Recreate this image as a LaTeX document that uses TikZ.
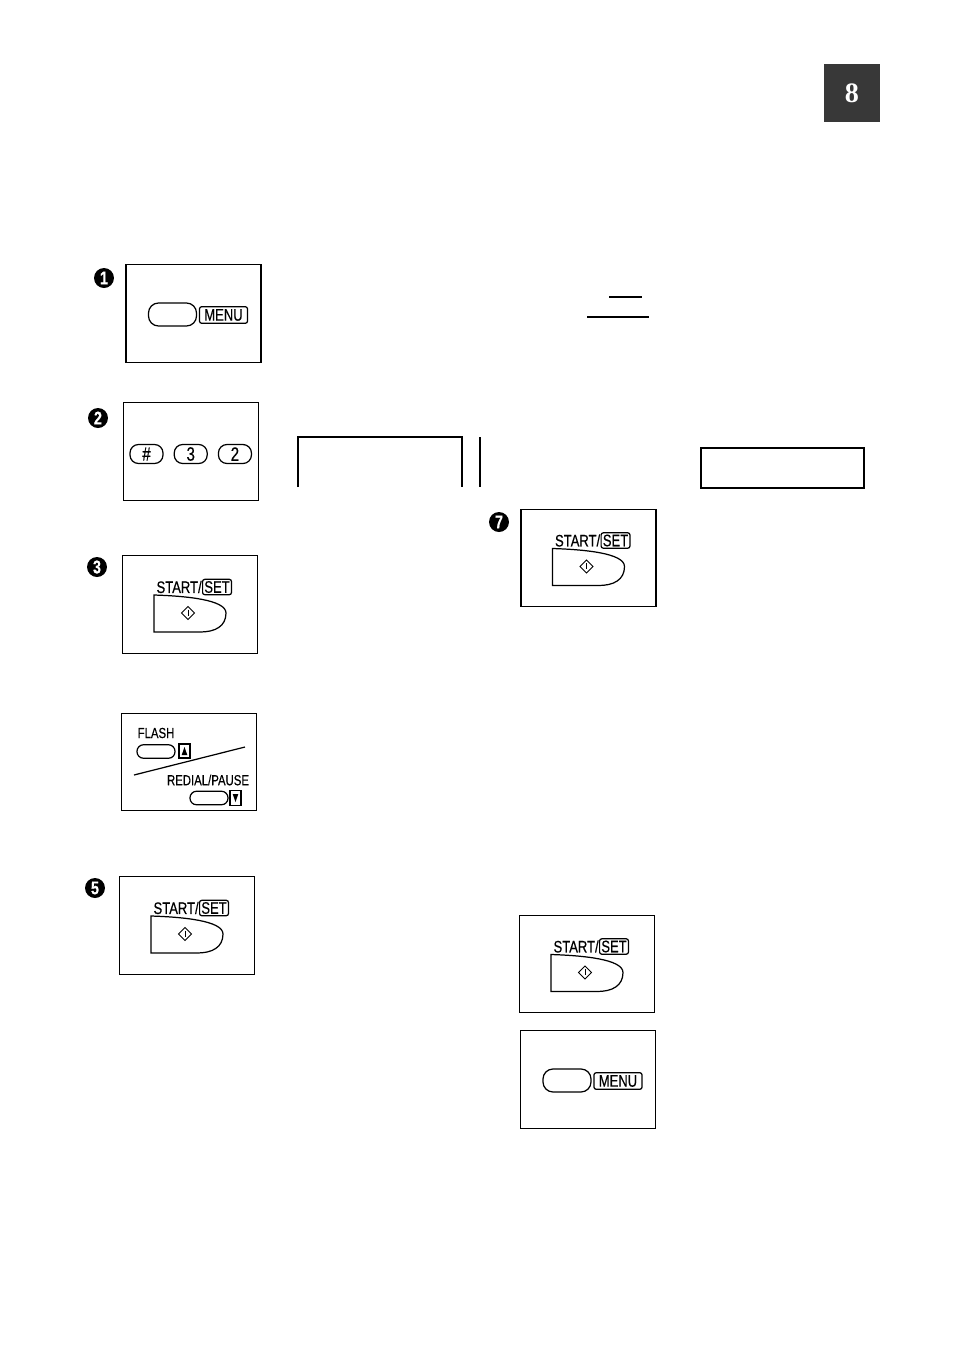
\documentclass[tikz,border=0pt]{standalone}
\usepackage{fontspec}
\newfontfamily\keyfont{Liberation Sans}[FakeStretch=0.78, FakeBold=0.4]
\newfontfamily\badgefont{Liberation Serif}
\usetikzlibrary{positioning, shapes.geometric}
\tikzset{
  panel/.style={draw, line width=0.6pt, minimum width=2.7cm, minimum height=1.95cm, inner sep=0pt},
  stepnum/.style={circle, fill=black, text=white, font=\keyfont\bfseries\fontsize{10.5}{10}\selectfont,
    minimum size=0.4cm, inner sep=0pt},
  oval/.style={draw, line width=0.7pt, rounded corners=0.2cm, minimum width=0.96cm, minimum height=0.46cm, inner sep=0pt},
  smalloval/.style={draw, line width=0.7pt, rounded corners=0.13cm, minimum width=0.76cm, minimum height=0.27cm, inner sep=0pt},
  keybox/.style={draw, line width=0.7pt, rounded corners=1.2pt, inner sep=1pt, font=\keyfont\fontsize{9.5}{10}\selectfont},
  keytext/.style={inner sep=0pt, font=\keyfont\fontsize{9.5}{10}\selectfont},
  smalltext/.style={inner sep=0pt, font=\keyfont\fontsize{8.3}{9}\selectfont},
  line/.style={line width=0.8pt}
}
% the START/SET key of a panel
\newcommand{\startkey}[1]{%
  \begin{scope}[shift={(#1.center)}]
    \node[keytext, anchor=east] (#1-start) at (12,-17.5) {START/};
    \node[keybox, anchor=west] (#1-set) at (#1-start.east) {SET};
    \draw[line width=0.7pt] (-36,-9.5) .. controls (-5,-8.5) and (36,-5) .. (36,8.5)
      .. controls (36,22) and (25,27.5) .. (10,27.5) -- (-36,27.5) -- cycle;
    \draw[line width=0.5pt] (-2,2) -- (4.5,8.5) -- (-2,15) -- (-8.5,8.5) -- cycle;
    \draw[line width=0.5pt] (-2,5) -- (-2,11);
  \end{scope}}
% the MENU key of a panel
\newcommand{\menukey}[1]{%
  \begin{scope}[shift={(#1.center)}]
    \node[oval] (#1-key) at (-21,1) {};
    \node[keybox, minimum width=0.96cm, minimum height=0.33cm] (#1-menu) at (30,1.5) {MENU};
  \end{scope}}

\begin{document}
\begin{tikzpicture}[x=0.02cm, y=-0.02cm]
  \useasboundingbox (0,0) rectangle (954,1350);

  % chapter badge
  \node[fill=black!78, text=white, minimum width=1.12cm, minimum height=1.16cm,
    font=\badgefont\bfseries\fontsize{16}{16}\selectfont] (badge) at (852,93) {8};

  % step 1
  \node[panel] (menu-a) at (193.5,313.5) {};
  \node[stepnum] (num-1) at (104,278) {1};
  \menukey{menu-a}

  % step 2
  \node[panel] (digits) at (191,451.5) {};
  \node[stepnum] (num-2) at (98,418) {2};
  \node[oval, minimum width=0.66cm, minimum height=0.38cm, rounded corners=0.17cm,
    font=\keyfont\fontsize{11}{11}\selectfont] (key-hash) at (146.5,454) {\#};
  \node[oval, minimum width=0.66cm, minimum height=0.38cm, rounded corners=0.17cm,
    font=\keyfont\fontsize{11}{11}\selectfont, right=0.2cm of key-hash] (key-3) {3};
  \node[oval, minimum width=0.66cm, minimum height=0.38cm, rounded corners=0.17cm,
    font=\keyfont\fontsize{11}{11}\selectfont, right=0.2cm of key-3] (key-2) {2};

  % step 3
  \node[panel] (start-a) at (190,604.5) {};
  \node[stepnum] (num-3) at (97,567) {3};
  \startkey{start-a}

  % step 4
  \node[panel] (flash) at (189,762) {};
  \begin{scope}[shift={(flash.center)}]
    \node[smalltext] (flash-text) at (-33,-29) {FLASH};
    \node[smalloval] (flash-key) at (-33,-10.5) {};
    \node[draw, line width=0.6pt, minimum width=0.22cm, minimum height=0.28cm, inner sep=0pt] (up-box) at (-4.5,-11) {};
    \fill (up-box.center) ++(0,-4) -- ++(2.8,8) -- ++(-5.6,0) -- cycle;
    \draw[line width=0.7pt] (-55,13) -- (56,-15);
    \node[smalltext] (redial-text) at (19,18) {REDIAL/PAUSE};
    \node[smalloval] (redial-key) at (20,36) {};
    \node[draw, line width=0.6pt, minimum width=0.22cm, minimum height=0.3cm, inner sep=0pt] (down-box) at (46.5,36) {};
    \fill (down-box.center) ++(0,4) -- ++(2.8,-8) -- ++(-5.6,0) -- cycle;
  \end{scope}

  % step 5
  \node[panel] (start-b) at (187,925.5) {};
  \node[stepnum] (num-5) at (95,888) {5};
  \startkey{start-b}

  % step 7
  \node[panel] (start-c) at (588.5,558) {};
  \node[stepnum] (num-7) at (499,522) {7};
  \startkey{start-c}

  % last two panels
  \node[panel] (start-d) at (587,964) {};
  \startkey{start-d}
  \node[panel] (menu-b) at (588,1079.5) {};
  \menukey{menu-b}

  % display frames and rules
  \draw[line] (609,297) -- (642,297);
  \draw[line] (587,317) -- (649,317);
  \draw[line] (298,487) -- (298,437) -- (462,437) -- (462,487);
  \draw[line] (480,437) -- (480,487);
  \draw[line] (701,448) rectangle (864,488);
\end{tikzpicture}
\end{document}
